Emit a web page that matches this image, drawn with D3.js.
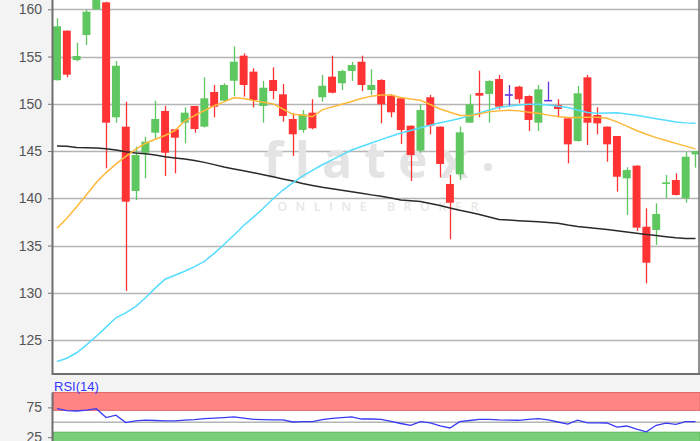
<!DOCTYPE html>
<html><head><meta charset="utf-8">
<script src="https://cdn.jsdelivr.net/npm/d3@7"></script>
<style>html,body{margin:0;padding:0;background:#f3f3f3;overflow:hidden;} svg{display:block;}</style>
</head><body><svg id="c" width="700" height="441"></svg>
<script>
// ---- data ----
const opens  = [152.5,157.74,154.63,157.28,160.0,160.74,148.57,147.58,140.77,144.82,146.94,149.24,147.3,148.0,149.77,147.58,151.25,150.33,152.44,155.09,153.4,149.77,152.52,151.0,148.39,147.23,149.06,150.69,152.87,152.17,153.47,154.45,151.46,152.52,150.86,150.58,147.68,145.04,150.69,147.58,141.51,142.54,148.0,151.14,151.04,152.62,150.93,151.81,150.82,148.0,150.33,149.87,148.46,146.06,152.8,148.81,147.58,146.59,142.11,143.45,136.99,136.64,141.54,141.93,140.0,144.65];
const highs  = [159.05,157.74,156.47,159.93,162.5,160.8,154.53,150.22,145.46,146.52,150.33,149.77,147.3,149.63,149.77,152.8,151.99,152.17,156.08,155.34,153.76,152.41,153.86,152.09,148.99,149.34,150.48,153.05,155.09,153.6,154.45,155.09,153.65,152.6,151.0,150.7,147.7,149.95,150.93,147.6,142.46,147.58,151.0,153.5,152.5,153.05,151.99,151.9,150.9,151.99,152.34,150.48,148.5,151.88,153.05,149.63,147.6,146.6,143.28,143.5,138.94,139.47,142.46,142.64,144.93,145.0];
const lows   = [152.45,152.8,154.5,156.22,160.0,143.17,148.0,130.19,139.82,142.11,146.35,142.36,142.64,145.82,146.94,147.5,148.57,150.2,150.8,150.75,149.63,148.0,150.48,148.1,144.47,146.94,147.3,150.22,151.1,151.46,152.41,151.35,150.93,147.94,148.57,145.74,141.83,144.82,146.77,142.22,135.66,141.93,148.0,148.57,148.0,149.42,149.77,150.05,147.12,147.12,150.3,148.57,143.7,146.0,145.64,146.77,143.87,140.7,138.23,136.54,131.0,135.06,140.0,140.3,139.53,143.24];
const closes = [158.2,153.08,155.06,159.75,162.0,148.0,154.03,139.64,144.58,145.99,148.39,144.82,146.41,149.06,147.33,150.58,149.69,151.99,154.45,151.99,150.4,151.7,151.35,148.71,146.77,148.89,147.41,151.91,151.17,153.47,154.1,151.99,151.99,149.95,149.1,147.23,144.58,149.34,147.68,143.63,139.53,146.98,149.95,150.86,152.41,149.69,150.93,150.48,148.28,151.53,150.33,149.45,145.71,151.11,148.0,147.93,145.71,142.28,142.99,136.89,133.18,138.34,141.6,140.35,144.4,145.0];
const maShort = [136.82,137.89,139.11,140.37,141.66,142.72,143.62,144.43,145.17,145.82,146.24,146.65,147.17,148.17,148.74,149.29,149.79,150.2,150.63,150.56,150.34,150.17,149.99,149.45,148.88,148.81,148.62,149.36,149.67,149.95,150.24,150.56,150.81,150.93,150.93,150.67,150.5,150.37,149.92,149.45,149.1,148.79,148.74,148.93,149.17,149.25,149.32,149.25,149.11,148.99,148.8,148.65,148.55,148.55,148.57,148.57,148.46,148.09,147.64,147.17,146.77,146.42,146.11,145.81,145.52,145.23];
const maMid   = [122.72,123.07,123.65,124.49,125.4,126.36,127.35,127.88,128.53,129.48,130.49,131.43,131.85,132.28,132.77,133.33,134.17,135.11,136.09,137.12,138.0,138.94,139.95,140.87,141.63,142.34,142.96,143.55,144.07,144.59,145.11,145.48,145.85,146.21,146.56,146.9,147.18,147.47,147.73,147.99,148.21,148.44,148.74,149.04,149.34,149.64,149.75,149.86,149.96,149.95,149.87,149.73,149.6,149.35,149.08,148.99,149.03,149.04,148.93,148.78,148.59,148.42,148.25,148.08,147.98,147.94];
const maLong  = [145.53,145.51,145.38,145.34,145.31,145.24,145.11,144.92,144.8,144.71,144.59,144.4,144.27,144.15,144.0,143.8,143.56,143.31,143.11,142.92,142.71,142.5,142.28,142.05,141.82,141.57,141.36,141.16,141.01,140.86,140.69,140.52,140.36,140.22,140.03,139.82,139.75,139.66,139.45,139.24,138.97,138.73,138.52,138.29,138.02,137.76,137.69,137.63,137.57,137.52,137.44,137.35,137.16,137.01,136.92,136.81,136.7,136.56,136.42,136.29,136.17,136.05,135.93,135.82,135.75,135.75];
const rsiValues = [73,69.5,69,70.5,72.8,58,62,49.5,52.5,53.5,53,52.5,52.5,53.5,54.5,56,57,58,59,57,55,54.5,54,54,50.5,51,51,54.5,56.5,58,59,55.5,55.5,55,51.5,48,45,51,49,44,40.5,51,53,55,55,54,53.5,53.4,55,56,54,50.5,47,53.5,49,49,48.8,42,43.8,38.5,34,45,48.5,46.6,51,51];
const priceTicks = [125,130,135,140,145,150,155,160];
const rsiTicks = [25,75];
const rsiLabel = "RSI(14)";

// ---- layout ----
const W = 700, H = 441;
const L = 53, R = 699, T = 0, B = 374;
const rT = 392.5, rB = 452.1;
const svg = d3.select("#c");
const n = opens.length;

const x = d3.scaleBand().domain(d3.range(n)).range([52.09, 700.41]).paddingInner(0.19).paddingOuter(0.095);
const cx = i => x(i) + x.bandwidth() / 2;
const y = d3.scaleLinear().domain([121.403, 160.984]).range([B, T]);
const yr = d3.scaleLinear().domain([0, 100]).range([rB, rT]);

svg.append("rect").attr("width", W).attr("height", H).attr("fill", "#f3f3f3");
const defs = svg.append("defs");
defs.append("clipPath").attr("id", "cp").append("rect").attr("x", L).attr("y", T).attr("width", R - L).attr("height", B - T);
defs.append("clipPath").attr("id", "cr").append("rect").attr("x", L).attr("y", rT).attr("width", R - L).attr("height", rB - rT);

// main plot background
svg.append("rect").attr("x", L).attr("y", T).attr("width", R - L).attr("height", B - T).attr("fill", "#ffffff");

// grid
svg.append("g").selectAll("line").data(priceTicks).join("line")
  .attr("x1", L).attr("x2", R).attr("y1", d => Math.round(y(d)) + 0.5).attr("y2", d => Math.round(y(d)) + 0.5)
  .attr("stroke", "#b4b4b4").attr("stroke-width", 1.6);

// watermark
const wm = svg.append("g").attr("pointer-events", "none");
wm.append("text").attr("x", 372).attr("y", 178).attr("text-anchor", "middle")
  .attr("font-family", "'Open Sans', 'DejaVu Sans', sans-serif").attr("font-weight", 700)
  .attr("font-size", 50).attr("letter-spacing", 12).attr("fill", "#e4e4e4").text("flatex");
wm.append("circle").attr("cx", 488).attr("cy", 167).attr("r", 4).attr("fill", "#e4e4e4");
wm.append("text").attr("x", 382).attr("y", 211).attr("text-anchor", "middle")
  .attr("font-family", "'Open Sans', 'DejaVu Sans', sans-serif").attr("font-weight", 600)
  .attr("font-size", 12.5).attr("letter-spacing", 8.5).attr("fill", "#e8e8e8").text("ONLINE BROKER");

// candles
const up = "#5fc75f", down = "#ff3333", doji = "#6633dd";
const colorOf = i => closes[i] === opens[i] ? doji : (closes[i] > opens[i] ? up : down);
const cg = svg.append("g").attr("clip-path", "url(#cp)");
cg.selectAll("line.w").data(d3.range(n)).join("line").attr("class", "w")
  .attr("x1", i => Math.round(cx(i)) + 0.5).attr("x2", i => Math.round(cx(i)) + 0.5)
  .attr("y1", i => y(highs[i])).attr("y2", i => y(lows[i]))
  .attr("stroke", colorOf).attr("stroke-width", 1.3);
cg.selectAll("rect.b").data(d3.range(n)).join("rect").attr("class", "b")
  .attr("x", i => x(i)).attr("width", x.bandwidth())
  .attr("y", i => Math.min(y(opens[i]), y(closes[i])) - (Math.abs(y(opens[i]) - y(closes[i])) < 1.6 ? 0.8 : 0))
  .attr("height", i => Math.max(1.6, Math.abs(y(opens[i]) - y(closes[i]))))
  .attr("fill", colorOf);

// moving averages
const lineGen = arr => d3.line().x((d, i) => cx(i)).y(d => y(d))(arr);
cg.append("path").attr("d", lineGen(maLong)).attr("fill", "none").attr("stroke", "#2a2a2a").attr("stroke-width", 1.5);
cg.append("path").attr("d", lineGen(maMid)).attr("fill", "none").attr("stroke", "#55dcff").attr("stroke-width", 1.5);
cg.append("path").attr("d", lineGen(maShort)).attr("fill", "none").attr("stroke", "#ffb83a").attr("stroke-width", 1.5);

// frame of main plot
svg.append("line").attr("x1", L - 0.5).attr("x2", L - 0.5).attr("y1", T).attr("y2", B + 1).attr("stroke", "#6e6e6e").attr("stroke-width", 2);
svg.append("line").attr("x1", L - 1).attr("x2", R + 1).attr("y1", B).attr("y2", B).attr("stroke", "#6e6e6e").attr("stroke-width", 2);
svg.append("line").attr("x1", R).attr("x2", R).attr("y1", T).attr("y2", B).attr("stroke", "#6e6e6e").attr("stroke-width", 1.5);

// y axis
const ya = svg.append("g").attr("transform", `translate(${L - 1},0)`)
  .call(d3.axisLeft(y).tickValues(priceTicks).tickSize(4).tickPadding(6).tickFormat(d3.format("d")));
ya.select(".domain").remove();
ya.selectAll(".tick line").attr("stroke", "#777");
ya.selectAll(".tick text").attr("fill", "#555").attr("font-size", 14).attr("font-family", "'Liberation Sans', Arial, sans-serif");

// ---- RSI panel ----
svg.append("rect").attr("x", L).attr("y", rT).attr("width", R - L + 1).attr("height", rB - rT).attr("fill", "#ffffff");
const rg = svg.append("g");
rg.append("rect").attr("x", L).attr("y", yr(100)).attr("width", R - L + 1).attr("height", yr(70) - yr(100))
  .attr("fill", "#ff8585").attr("stroke", "#e06a6a").attr("stroke-width", 1);
rg.append("rect").attr("x", L).attr("y", yr(30) - 2).attr("width", R - L + 1).attr("height", yr(0) - yr(30) + 2)
  .attr("fill", "#78cf78").attr("stroke", "#5cb85c").attr("stroke-width", 1);
rg.append("line").attr("x1", L).attr("x2", R + 1).attr("y1", yr(50)).attr("y2", yr(50)).attr("stroke", "#b4b4b4").attr("stroke-width", 1.5);
rg.append("path").attr("d", d3.line().x((d, i) => cx(i)).y(d => yr(d))(rsiValues))
  .attr("fill", "none").attr("stroke", "#3a3af5").attr("stroke-width", 1.3);
svg.append("line").attr("x1", L - 0.5).attr("x2", L - 0.5).attr("y1", rT).attr("y2", H).attr("stroke", "#6e6e6e").attr("stroke-width", 2);
const ra = svg.append("g").attr("transform", `translate(${L - 1},0)`)
  .call(d3.axisLeft(yr).tickValues(rsiTicks).tickSize(4).tickPadding(6));
ra.select(".domain").remove();
ra.selectAll(".tick line").attr("stroke", "#777");
ra.selectAll(".tick text").attr("fill", "#555").attr("font-size", 14).attr("font-family", "'Liberation Sans', Arial, sans-serif");
svg.append("text").attr("x", 54).attr("y", 390.5).attr("font-size", 13)
  .attr("font-family", "'Liberation Sans', Arial, sans-serif").attr("fill", "#3535ff").text(rsiLabel);
</script>
</body></html>
